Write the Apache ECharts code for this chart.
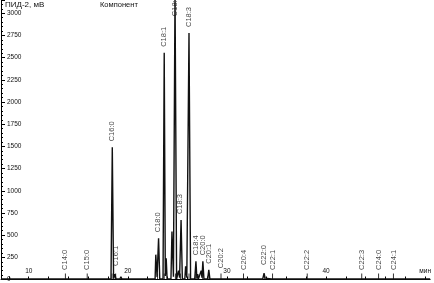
<!DOCTYPE html>
<html>
<head>
<meta charset="utf-8">
<script src="https://cdn.jsdelivr.net/npm/echarts@6/dist/echarts.min.js"></script>
<style>html,body{margin:0;padding:0;background:#fff}#c{width:434px;height:283px}</style>
</head>
<body>
<div id="c"></div>
<script>
// Chromatogram trace: [time (min), signal (mV)]
const trace = [
  [7.2,5],[13.6,5],[13.7,15],[13.8,5],[15.8,5],[15.9,10],[16.0,5],
  [18.3,5],[18.43,1490],[18.56,8],[18.7,60],[18.8,5],
  [19.2,5],[19.3,30],[19.4,5],[20.4,5],[20.5,15],[20.6,5],[21.6,5],[21.7,10],[21.8,5],
  [22.4,5],[22.5,15],[22.6,5],
  [22.75,5],[22.82,280],[22.95,30],[23.1,465],[23.22,5],
  [23.55,5],[23.67,2555],[23.78,40],[23.87,240],[23.96,5],
  [24.35,5],[24.45,540],[24.6,30],[24.76,3250],[24.92,5],
  [25.05,5],[25.12,100],[25.22,20],[25.37,670],[25.5,5],
  [25.75,5],[25.83,150],[25.95,20],[26.17,2778],[26.33,5],
  [26.75,5],[26.87,205],[26.97,10],[27.05,60],[27.12,5],
  [27.3,5],[27.4,100],[27.48,20],[27.57,205],[27.68,5],
  [28.05,5],[28.17,110],[28.28,5],
  [29.4,5],[29.5,20],[29.6,5],[30.8,5],[30.9,10],[31.0,5],[31.6,5],[31.7,10],[31.8,5],
  [33.6,5],[33.75,70],[33.85,15],[33.95,5],[34.5,5],[34.6,15],[34.7,5],
  [38.0,5],[38.1,10],[38.2,5],[43.5,5],[43.6,10],[43.7,5],
  [45.2,5],[45.3,8],[45.4,5],[46.7,5],[46.8,8],[46.9,5],[50.5,5]
];
// Components
const compNames = ['C14:0','C15:0','C16:0','C16:1','C18:0','C18:1','C18:2','C18:3','C18:3','C18:4','C20:0','C20:1','C20:2','C20:4','C22:0','C22:1','C22:2','C22:3','C24:0','C24:1'];
const compTimes = [13.7,15.9,18.4,18.77,23.0,23.67,24.8,25.3,26.17,26.85,27.55,28.2,29.4,31.67,33.77,34.6,38.1,43.6,45.3,46.8];
const compLabelLevel = [40,40,1490,85,465,2555,2900,670,2778,205,205,110,60,40,95,40,40,40,40,40];
// Axis ticks
const xTickValues = [8,10,12,14,16,18,20,22,24,26,28,30,32,34,36,38,40,42,44,46,48,50];
const xLabelValues = [10,20,30,40,50];
const xLabelText = {10:'10',20:'20',30:'30',40:'40',50:'мин'};

const font = 'Liberation Sans, Arial, sans-serif';
const chart = echarts.init(document.getElementById('c'), null, {renderer:'canvas'});
chart.setOption({
  animation:false,
  backgroundColor:'#fff',
  grid:{left:1,right:0,top:0,bottom:1,containLabel:false},
  graphic:[
    {type:'text',left:5,top:1,style:{text:'ПИД-2, мВ',fontSize:8,fontFamily:font,fill:'#111'}},
    {type:'text',left:100,top:1,style:{text:'Компонент',fontSize:7.5,fontFamily:font,fill:'#111'}}
  ],
  xAxis:{
    type:'value',min:7.2,max:50.5,
    axisLine:{lineStyle:{color:'#000',width:1}},
    axisTick:{show:true,inside:true,length:3,customValues:xTickValues,lineStyle:{color:'#000'}},
    axisLabel:{inside:true,margin:5,fontSize:6.5,fontFamily:font,color:'#111',customValues:xLabelValues,
      formatter:v=>xLabelText[v]||''},
    splitLine:{show:false}
  },
  yAxis:[{
    type:'value',min:0,max:3150,interval:250,
    axisLine:{show:true,lineStyle:{color:'#000',width:1}},
    axisTick:{show:true,inside:true,length:4,lineStyle:{color:'#000'}},
    axisLabel:{inside:true,margin:6,fontSize:6.5,fontFamily:font,color:'#111',
      formatter:v=>(v<=3000?String(v):'')},
    splitLine:{show:false}
  },{
    type:'value',min:0,max:3150,interval:50,position:'left',
    axisLine:{show:false},
    axisTick:{show:true,inside:true,length:2,lineStyle:{color:'#000'}},
    axisLabel:{show:false},
    splitLine:{show:false}
  }],
  series:[
    {type:'line',data:trace,symbol:'none',lineStyle:{color:'#111',width:1.4},z:3,clip:true},
    {type:'scatter',data:compTimes.map(t=>[t,0]),symbol:'rect',symbolSize:[1,6],symbolOffset:[0,-3],
      itemStyle:{color:'#000'},silent:true,z:2},
    {type:'scatter',data:compTimes.map((t,i)=>[t,compLabelLevel[i]]),symbolSize:0,silent:true,z:4,
      label:{show:true,position:'top',distance:6,rotate:90,align:'left',verticalAlign:'middle',
        fontSize:7.5,fontFamily:font,color:'#111',formatter:p=>compNames[p.dataIndex]}}
  ]
});
</script>
</body>
</html>
